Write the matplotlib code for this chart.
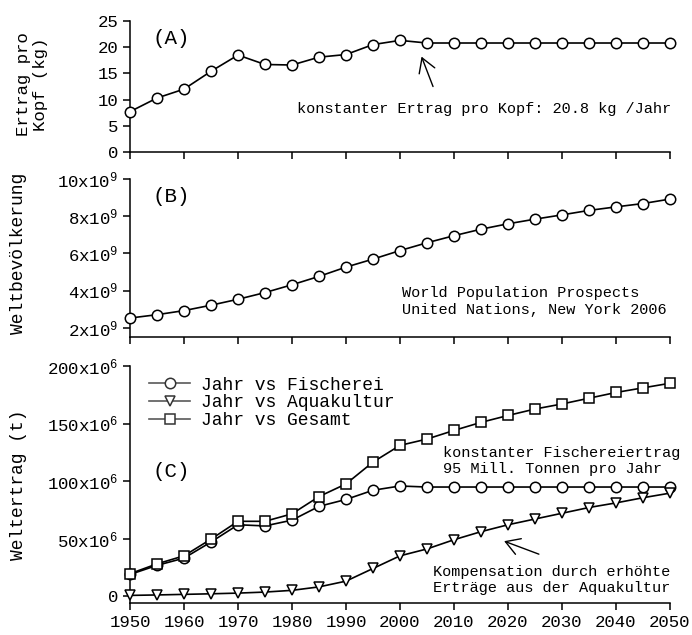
import numpy as np
import matplotlib
matplotlib.use("Agg")
import matplotlib.pyplot as plt
from matplotlib.ticker import FuncFormatter

plt.rcParams['font.family'] = ['Liberation Mono', 'DejaVu Sans Mono']
plt.rcParams['mathtext.fontset'] = 'custom'
plt.rcParams['mathtext.rm'] = 'Liberation Mono'
plt.rcParams['mathtext.default'] = 'regular'

# data
years = np.arange(1950, 2051, 5)

per_capita = [7.7, 10.3, 12.0, 15.4, 18.5, 16.7, 16.6, 18.1, 18.6, 20.5, 21.3,
              20.8, 20.8, 20.8, 20.8, 20.8, 20.8, 20.8, 20.8, 20.8, 20.8]

population = [2.52, 2.70, 2.92, 3.21, 3.53, 3.89, 4.31, 4.76, 5.26, 5.69, 6.15,
              6.57, 6.95, 7.30, 7.59, 7.84, 8.07, 8.31, 8.50, 8.68, 8.92]  # x 1e9

fishery = [18.8, 26.7, 33.0, 47.0, 62.0, 61.0, 66.0, 78.0, 84.0, 92.0, 95.7,
           94.8, 94.8, 94.8, 94.8, 94.8, 94.8, 94.8, 94.8, 94.8, 94.8]  # x 1e6
aquaculture = [0.6, 1.0, 1.5, 2.0, 2.6, 3.5, 5.0, 8.0, 13.0, 24.0, 35.0,
               41.0, 49.0, 56.0, 62.0, 67.0, 72.0, 77.0, 81.0, 85.5, 89.5]
total = [19.5, 28.0, 35.0, 49.5, 65.0, 65.0, 71.5, 86.5, 97.5, 116.5, 131.0,
         136.5, 144.0, 151.0, 157.0, 162.6, 167.0, 172.0, 177.0, 181.0, 185.0]

xticks = np.arange(1950, 2051, 10)

W, H = 692, 635
fig = plt.figure(figsize=(W / 100, H / 100), dpi=100)


def px_axes(x0, x1, ytop, ybot):
    return fig.add_axes([x0 / W, 1 - ybot / H, (x1 - x0) / W, (ybot - ytop) / H])


def style(ax):
    for s in ['top', 'right']:
        ax.spines[s].set_visible(False)
    for s in ['left', 'bottom']:
        ax.spines[s].set_linewidth(1.1)
    ax.tick_params(direction='out', length=5, width=1.1, labelsize=12.5)
    ax.set_xlim(1950, 2050)
    ax.set_xticks(xticks)


mk = dict(color='black', lw=1.2, ms=7.5, mfc='white', mec='black', mew=1.1, clip_on=False, zorder=3)
arrow = dict(arrowstyle='->,head_length=0.5,head_width=0.3', color='black', lw=1, mutation_scale=20)

# (A) per capita
axA = px_axes(130, 670, 21, 152)
style(axA)
axA.plot(years, per_capita, marker='o', **mk)
axA.set_ylim(0, 25)
axA.set_yticks([0, 5, 10, 15, 20, 25])
axA.set_xticklabels([])
axA.set_ylabel('Ertrag pro\nKopf (kg)', fontsize=12.5, linespacing=1.15)
axA.yaxis.set_label_coords(-0.152, 0.52)
axA.text(0.076, 0.87, '(A)', transform=axA.transAxes, fontsize=15, ha='center', va='center')
axA.text(0.309, 0.328, 'konstanter Ertrag pro Kopf: 20.8 kg /Jahr', transform=axA.transAxes,
         fontsize=11, ha='left', va='center')
axA.annotate('', xy=(2003.8, 18.7), xytext=(2006.3, 12.0), arrowprops=arrow)

# (B) population
axB = px_axes(130, 670, 179, 337)
style(axB)
axB.plot(years, np.array(population) * 1e9, marker='o', **mk)
axB.set_ylim(1.5e9, 10e9)
axB.set_yticks([2e9, 4e9, 6e9, 8e9, 10e9])
axB.yaxis.set_major_formatter(FuncFormatter(lambda v, p: '%dx10$^9$' % round(v / 1e9)))
axB.set_xticklabels([])
axB.set_ylabel('Weltbevölkerung', fontsize=13)
axB.yaxis.set_label_coords(-0.19, 0.53)
axB.text(0.076, 0.89, '(B)', transform=axB.transAxes, fontsize=15, ha='center', va='center')
axB.text(0.504, 0.225, 'World Population Prospects\nUnited Nations, New York 2006',
         transform=axB.transAxes, fontsize=11, ha='left', va='center', linespacing=1.3)

# (C) world yield
axC = px_axes(130, 670, 366, 603)
style(axC)
axC.plot(years, np.array(fishery) * 1e6, marker='o', label='Jahr vs Fischerei', **mk)
axC.plot(years, np.array(aquaculture) * 1e6, marker='v', label='Jahr vs Aquakultur', **mk)
axC.plot(years, np.array(total) * 1e6, marker='s', label='Jahr vs Gesamt', **mk)
axC.set_ylim(-6e6, 200e6)
axC.set_yticks([0, 50e6, 100e6, 150e6, 200e6])
axC.yaxis.set_major_formatter(FuncFormatter(
    lambda v, p: '0' if abs(v) < 1 else '%dx10$^6$' % round(v / 1e6)))
axC.set_ylabel('Weltertrag (t)', fontsize=13)
axC.yaxis.set_label_coords(-0.19, 0.5)
axC.text(0.076, 0.553, '(C)', transform=axC.transAxes, fontsize=15, ha='center', va='center')
axC.text(0.58, 0.598, 'konstanter Fischereiertrag\n95 Mill. Tonnen pro Jahr',
         transform=axC.transAxes, fontsize=11, ha='left', va='center', linespacing=1.2)
axC.text(0.561, 0.097, 'Kompensation durch erhöhte\nErträge aus der Aquakultur',
         transform=axC.transAxes, fontsize=11, ha='left', va='center', linespacing=1.2)
axC.annotate('', xy=(2018.8, 48.6e6), xytext=(2026.2, 35.6e6), arrowprops=arrow)

leg = axC.legend(loc='upper left', bbox_to_anchor=(0.035, 0.955), frameon=False, fontsize=13,
                 numpoints=1, handlelength=2.3, handletextpad=0.6, labelspacing=0.04,
                 borderaxespad=0, borderpad=0)
for h in leg.get_lines():
    h.set_color('0.35')
    h.set_markeredgecolor('0.2')

fig.savefig('out.png', dpi=100)
